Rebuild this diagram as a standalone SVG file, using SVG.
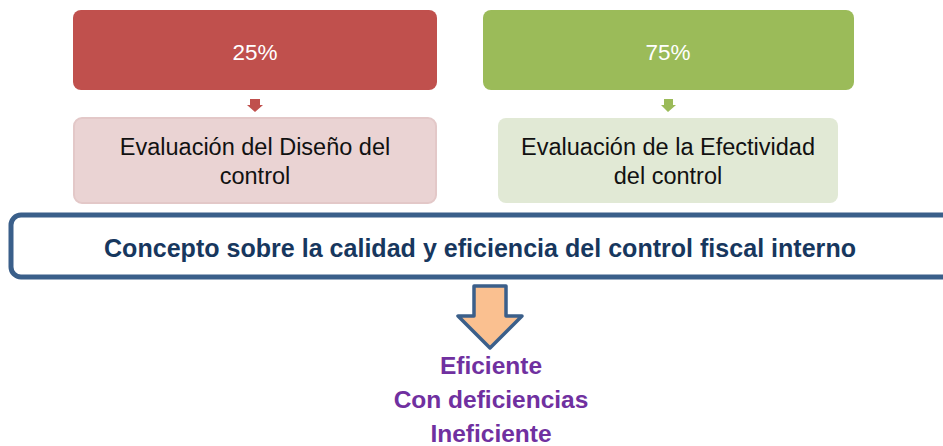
<svg xmlns="http://www.w3.org/2000/svg" width="943" height="446" viewBox="0 0 943 446">
<style>
.t{font-family:"Liberation Sans",Arial,sans-serif;text-anchor:middle}
.pct{fill:#ffffff;font-size:22.5px}
.ev{fill:#111111;font-size:23.5px}
.main{fill:#17375E;font-size:25px;font-weight:bold}
.res{fill:#7030A0;font-size:24.5px;font-weight:bold}
</style>
<rect width="943" height="446" fill="#ffffff"/>
<g id="red-top"><rect x="73" y="10" width="364" height="80" rx="8" fill="#C0504D"/><text class="t pct" x="255" y="60">25%</text></g>
<g id="green-top"><rect x="483" y="10" width="371" height="80" rx="8" fill="#9BBB59"/><text class="t pct" x="668" y="60">75%</text></g>
<g id="red-bottom"><rect x="74" y="118" width="362" height="85" rx="8" fill="#EAD3D3" stroke="#E3C8C8" stroke-width="2"/><text class="t ev" x="255" y="155">Evaluación del Diseño del</text><text class="t ev" x="255" y="184">control</text></g>
<g id="green-bottom"><rect x="498" y="118" width="340" height="85" rx="8" fill="#E1E9D5"/><text class="t ev" x="668" y="155">Evaluación de la Efectividad</text><text class="t ev" x="668" y="184">del control</text></g>
<g id="concept"><rect x="11" y="215" width="950" height="62" rx="10" fill="#ffffff" stroke="#3A5F8A" stroke-width="5"/><text class="t main" x="480" y="257" textLength="752" lengthAdjust="spacingAndGlyphs">Concepto sobre la calidad y eficiencia del control fiscal interno</text></g>
<g id="result"><text class="t res" x="491" y="374">Eficiente</text><text class="t res" x="491" y="408">Con deficiencias</text><text class="t res" x="491" y="442">Ineficiente</text></g>
<g id="connectors">
<polygon points="250,99 260,99 260,105 263,105 255,112 247,105 250,105" fill="#C0504D"/>
<polygon points="664,99 673,99 673,105 676,105 668,112 661,105 664,105" fill="#9BBB59"/>
<polygon points="474,286 506,286 506,316 522,316 490,348 458,316 474,316" fill="#FAC090" stroke="#3B5F8A" stroke-width="3.5" stroke-linejoin="round"/>
</g>
</svg>
